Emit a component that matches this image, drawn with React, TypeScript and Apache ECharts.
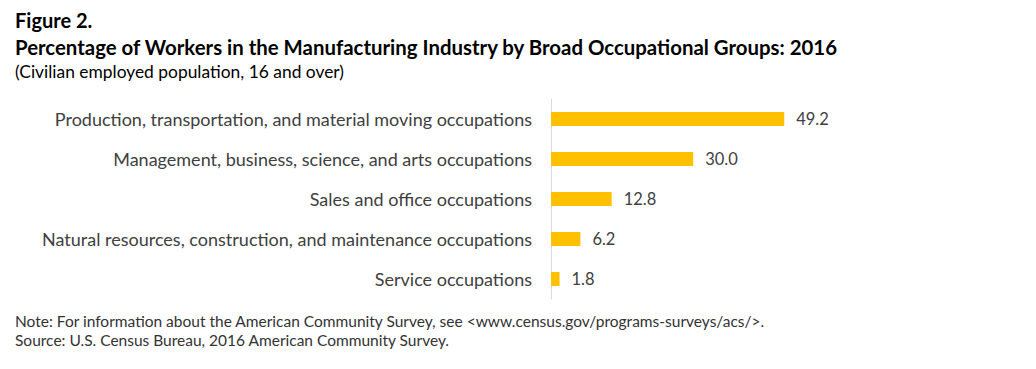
import React, { useEffect, useRef } from "react";
import * as echarts from "echarts";

const categories = [
  "Service occupations",
  "Natural resources, construction, and maintenance occupations",
  "Sales and office occupations",
  "Management, business, science, and arts occupations",
  "Production, transportation, and material moving occupations",
];
const values = [1.8, 6.2, 12.8, 30.0, 49.2];

const figureLabel = "Figure 2.";
const titleText = "Percentage of Workers in the Manufacturing Industry by Broad Occupational Groups: 2016";
const subtitleText = "(Civilian employed population, 16 and over)";
const noteText = "Note: For information about the American Community Survey, see <www.census.gov/programs-surveys/acs/>.";
const sourceText = "Source: U.S. Census Bureau, 2016 American Community Survey.";

const FONT = "Lato, 'Liberation Sans', sans-serif";

export default function App() {
  const ref = useRef<HTMLDivElement>(null);
  useEffect(() => {
    if (!ref.current) return;
    const chart = echarts.init(ref.current, null, { renderer: "svg" });
    chart.setOption({
      animation: false,
      backgroundColor: "#ffffff",
      grid: { left: 551, top: 99, width: 474, height: 200, containLabel: false },
      xAxis: {
        type: "value",
        min: 0,
        max: 100,
        show: false,
      },
      yAxis: {
        type: "category",
        data: categories,
        axisLine: { show: true, lineStyle: { color: "#d9d9d9", width: 1 } },
        axisTick: { show: false },
        axisLabel: {
          color: "#404040",
          fontSize: 18,
          fontFamily: FONT,
          margin: 19,
        },
      },
      series: [
        {
          type: "bar",
          data: values,
          barWidth: 14,
          itemStyle: { color: "#ffc000" },
          label: {
            show: true,
            position: "right",
            distance: 12,
            color: "#404040",
            fontSize: 16.5,
            fontFamily: FONT,
            formatter: (p: any) => Number(p.value).toFixed(1),
          },
        },
      ],
      graphic: [
        { type: "text", left: 15, top: 9.5, style: { text: figureLabel, font: `bold 20px ${FONT}`, fill: "#000" } },
        { type: "text", left: 15, top: 37.3, style: { text: titleText, font: `bold 20.4px ${FONT}`, fill: "#000" } },
        { type: "text", left: 15, top: 63.3, style: { text: subtitleText, font: `17.4px ${FONT}`, fill: "#000" } },
        { type: "text", left: 15, top: 313.2, style: { text: noteText, font: `15.5px ${FONT}`, fill: "#333" } },
        { type: "text", left: 15, top: 332.2, style: { text: sourceText, font: `15.5px ${FONT}`, fill: "#333" } },
      ],
    });
    return () => chart.dispose();
  }, []);
  return (
    <div
      ref={ref}
      style={{ position: "fixed", left: 0, top: 0, width: 1036, height: 369 }}
    />
  );
}
